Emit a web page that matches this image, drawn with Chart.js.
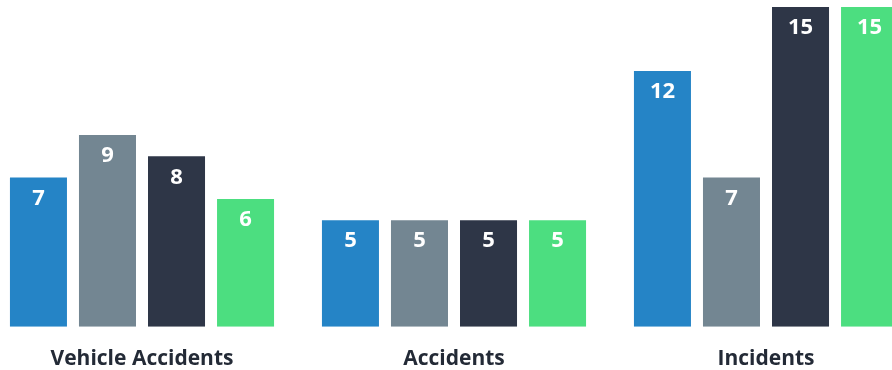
<!DOCTYPE html>
<html>
<head>
<meta charset="utf-8">
<script src="https://cdn.jsdelivr.net/npm/chart.js@4.4.1/dist/chart.umd.min.js"></script>
<style>
  html, body { margin: 0; padding: 0; background: #fff; overflow: hidden; }
  #wrap { position: absolute; left: -14px; top: 0; width: 936px; height: 370px; }
</style>
</head>
<body>
<div id="wrap"><canvas id="chart"></canvas></div>
<script>
const categories = ['Vehicle Accidents', 'Accidents', 'Incidents'];
const seriesA = [7, 5, 12];
const seriesB = [9, 5, 7];
const seriesC = [8, 5, 15];
const seriesD = [6, 5, 15];
const colors = ['#2584c6', '#738692', '#2e3647', '#4cde80'];

// draw the value inside the top of each bar
const barValues = {
  id: 'barValues',
  afterDatasetsDraw(chart) {
    const ctx = chart.ctx;
    ctx.save();
    ctx.fillStyle = '#ffffff';
    ctx.font = 'bold 22px "Open Sans"';
    ctx.textAlign = 'center';
    ctx.textBaseline = 'middle';
    chart.data.datasets.forEach((ds, i) => {
      chart.getDatasetMeta(i).data.forEach((bar, j) => {
        ctx.fillText(ds.data[j], bar.x, bar.y + 21);
      });
    });
    ctx.restore();
  }
};

new Chart(document.getElementById('chart'), {
  type: 'bar',
  data: {
    labels: categories,
    datasets: [
      { data: seriesA, backgroundColor: colors[0] },
      { data: seriesB, backgroundColor: colors[1] },
      { data: seriesC, backgroundColor: colors[2] },
      { data: seriesD, backgroundColor: colors[3] }
    ]
  },
  options: {
    responsive: true,
    maintainAspectRatio: false,
    animation: false,
    layout: { padding: { top: 7, bottom: -14 } },
    plugins: { legend: { display: false }, tooltip: { enabled: false } },
    datasets: { bar: { barPercentage: 0.826, categoryPercentage: 0.885 } },
    scales: {
      x: {
        grid: { display: false },
        border: { display: false },
        ticks: {
          color: '#232a36',
          font: { family: '"Open Sans"', size: 21, weight: 'bold' },
          padding: 12
        }
      },
      y: { display: false, min: 0, max: 15 }
    }
  },
  plugins: [barValues]
});
</script>
</body>
</html>
